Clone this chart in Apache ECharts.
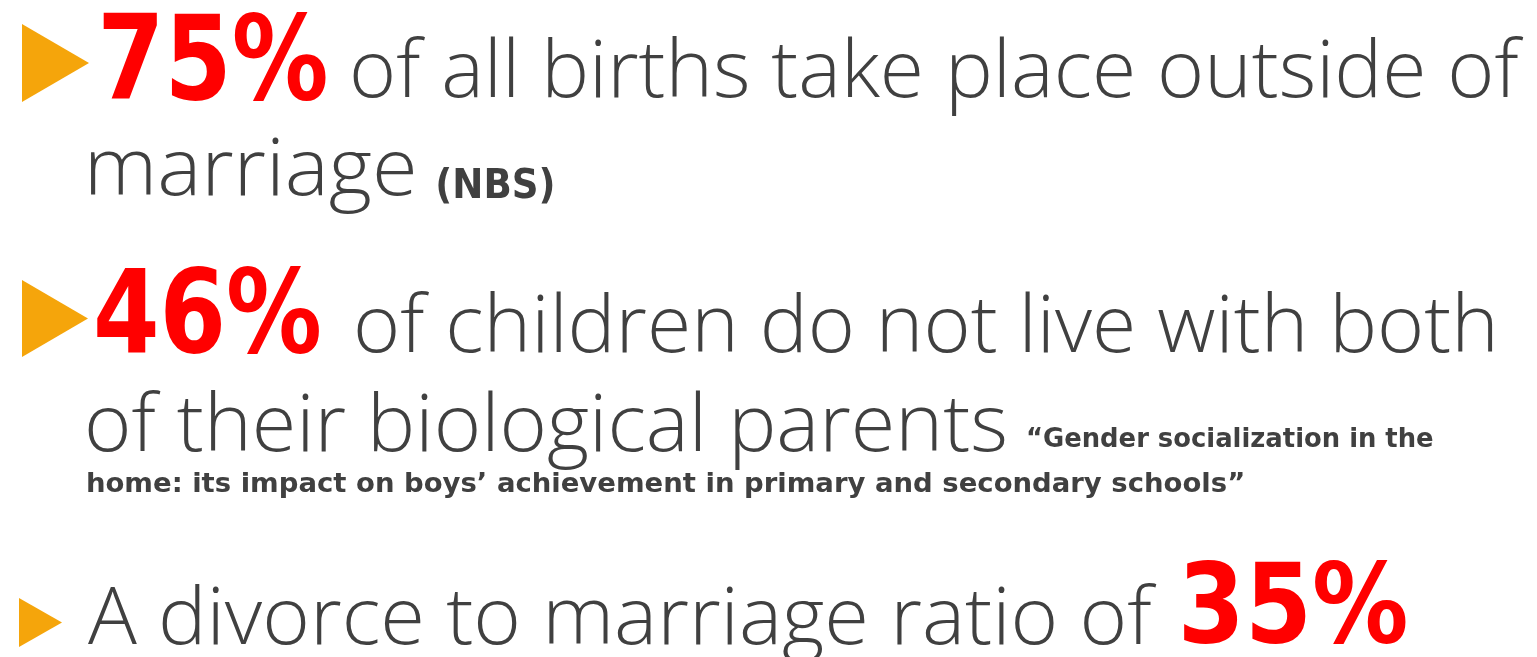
<!DOCTYPE html>
<html>
<head>
<meta charset="utf-8">
<script src="https://cdn.jsdelivr.net/npm/echarts@6/dist/echarts.min.js"></script>
<style>
  html, body { margin: 0; padding: 0; background: #fff; }
  #main { width: 1537px; height: 657px; }
</style>
</head>
<body>
<div id="main"></div>
<script>
// the three headline numbers (percent)
var percents = [75, 46, 35];
// text after each number
var leadText = ['of all births take place outside of', 'of children do not live with both', 'A divorce to marriage ratio of'];
// wrapped second lines
var secondLine = ['marriage', 'of their biological parents'];
// sources
var sources = ['(NBS)', '\u201CGender socialization in the', 'home: its impact on boys\u2019 achievement in primary and secondary schools\u201D'];

var GRAY = '#404040';
var RED = '#ff0000';
var ORANGE = '#f5a50b';
var BODY_FONT = '"Open Sans", sans-serif';
var BOLD_FONT = '"DejaVu Sans", sans-serif';

var cv = document.createElement('canvas');
var ctx = cv.getContext('2d');

// size text by glyph height, stretch it to span x0..x1, sit it on baseline
function fitText(text, x0, x1, baseline, h, refChar, family, weight, color) {
  ctx.textBaseline = 'alphabetic';
  ctx.font = weight + ' 100px ' + family;
  var ratio = ctx.measureText(refChar).actualBoundingBoxAscent / 100;
  var size = h / ratio;
  ctx.font = weight + ' ' + size + 'px ' + family;
  var m = ctx.measureText(text);
  var inkW = m.actualBoundingBoxLeft + m.actualBoundingBoxRight;
  var sx = (x1 - x0) / inkW;
  ctx.textBaseline = 'middle';
  var d = ctx.measureText('x').actualBoundingBoxDescent;
  return {
    type: 'text',
    x: x0 + m.actualBoundingBoxLeft * sx,
    y: baseline - d,
    scaleX: sx,
    style: {
      text: text,
      x: 0,
      y: 0,
      fontSize: size,
      fontFamily: family,
      fontWeight: weight,
      fill: color,
      textAlign: 'left',
      textVerticalAlign: 'middle'
    }
  };
}

function body(text, x0, x1, baseline) {
  return fitText(text, x0, x1, baseline, 42, 'x', BODY_FONT, 300, GRAY);
}
function bold(text, x0, x1, baseline, h, color) {
  return fitText(text, x0, x1, baseline, h, 'H', BOLD_FONT, 'bold', color);
}

function bullet(x0, x1, y0, y1) {
  return {
    type: 'polygon',
    shape: { points: [[x0, y0], [x1, (y0 + y1) / 2], [x0, y1]] },
    style: { fill: ORANGE }
  };
}

var els = [];
els.push(bullet(22, 89, 24, 102));
els.push(bullet(22, 88, 280, 357));
els.push(bullet(19, 62, 598, 647));

els.push(bold(percents[0] + '%', 103, 326, 99, 86, RED));
els.push(body(leadText[0], 353, 1524, 97));
els.push(body(secondLine[0], 90, 413, 195));
els.push(bold(sources[0], 438, 553, 198, 30, GRAY));

els.push(bold(percents[1] + '%', 97, 319, 352, 85, RED));
els.push(body(leadText[1], 357, 1493, 352));
els.push(body(secondLine[1], 88, 1005, 451));
els.push(bold(sources[1], 1028, 1433, 447, 19, GRAY));
els.push(bold(sources[2], 88, 1243, 492, 19, GRAY));

els.push(body(leadText[2], 88, 1157, 644));
els.push(bold(percents[2] + '%', 1184, 1406, 642, 80, RED));

var myChart = echarts.init(document.getElementById('main'), null, { renderer: 'canvas' });
var option = {
  backgroundColor: '#ffffff',
  animation: false,
  graphic: { elements: els }
};
myChart.setOption(option);
</script>
</body>
</html>
